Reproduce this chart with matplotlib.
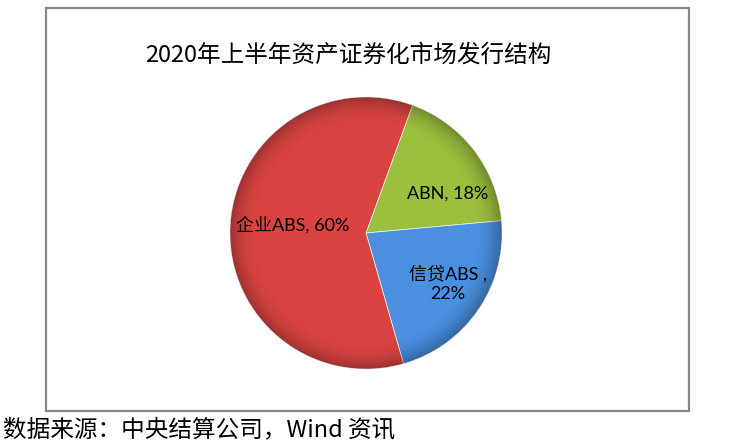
import matplotlib
matplotlib.use("Agg")
import matplotlib.pyplot as plt
import numpy as np
from matplotlib.patches import Rectangle, Circle

# data
categories = ["ABN", "信贷ABS", "企业ABS"]
shares = [18, 22, 60]
label_texts = ["ABN, 18%", "信贷ABS ,\n22%", "企业ABS, 60%"]
colors = ["#9bc03e", "#4a8fe0", "#d94441"]
# label centres in pie-radius units
label_pos = [(0.60, 0.29), (0.60, -0.37), (-0.54, 0.06)]

W, H = 730, 444
fig = plt.figure(figsize=(W / 100, H / 100), dpi=100)
fig.patch.set_facecolor("white")

cjk = ["Noto Sans CJK SC", "DejaVu Sans"]
lab_font = ["Lato", "Noto Sans CJK SC", "DejaVu Sans"]

# chart frame
fig.patches.append(Rectangle((46 / W, 1 - 411 / H), 643 / W, 403 / H,
                             transform=fig.transFigure, fill=False,
                             edgecolor="#878787", linewidth=1.6))

# pie axes: centre (366, 233) px, radius 136 px
cx, cy, r = 366, 233, 136
ax = fig.add_axes([(cx - r) / W, (H - cy - r) / H, 2 * r / W, 2 * r / H])
wedges, _ = ax.pie(shares, colors=colors, startangle=70, counterclock=False,
                   radius=1, wedgeprops=dict(linewidth=0.5, edgecolor="#f4f4f4"))
ax.set_xlim(-1, 1)
ax.set_ylim(-1, 1)
ax.set_aspect("equal")
ax.axis("off")

# rim shading to mimic the bevelled look
n = 400
xx, yy = np.meshgrid(np.linspace(-1, 1, n), np.linspace(-1, 1, n))
rr = np.sqrt(xx ** 2 + yy ** 2)
shade = np.zeros((n, n, 4))
shade[..., 3] = np.clip((rr - 0.80) / 0.20, 0, 1) ** 2 * 0.28
img = ax.imshow(shade, extent=(-1, 1, -1, 1), origin="lower", zorder=3)
img.set_clip_path(Circle((0, 0), 1, transform=ax.transData))

for (lx, ly), t in zip(label_pos, label_texts):
    ax.text(lx, ly, t, ha="center", va="center", fontsize=13,
            family=lab_font, color="black", zorder=5, linespacing=1.3)

fig.text(348 / W, 1 - 55 / H, "2020年上半年资产证券化市场发行结构",
         ha="center", va="center", fontsize=17, family=cjk)
fig.text(3 / W, 1 - 430 / H, "数据来源：中央结算公司，Wind 资讯",
         ha="left", va="center", fontsize=17, family=cjk)

fig.savefig("out.png", dpi=100)
